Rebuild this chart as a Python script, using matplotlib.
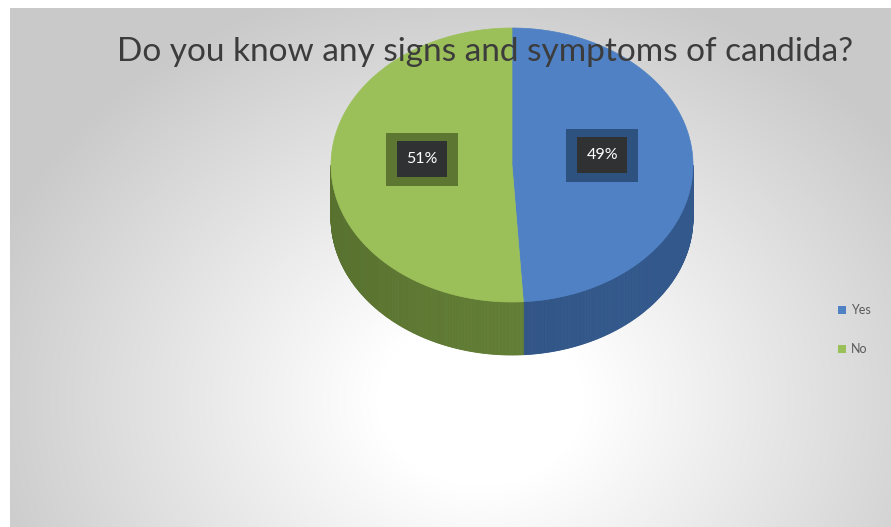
import numpy as np
import matplotlib
matplotlib.use("Agg")
import matplotlib.pyplot as plt
from matplotlib.patches import Polygon, Rectangle
from matplotlib.colors import to_rgb

# ---- data ----
categories = ["Yes", "No"]
values = [49, 51]
pct_labels = ["49%", "51%"]
title = "Do you know any signs and symptoms of candida?"

top_colors = ["#4f81c4", "#9cc059"]
side_colors = ["#2f5282", "#5f7a33"]
label_border = ["#2e5280", "#5d7733"]

W, H = 891, 527
fig = plt.figure(figsize=(W / 100, H / 100), dpi=100)
fig.patch.set_facecolor("white")
ax = fig.add_axes([0, 0, 1, 1])
ax.set_xlim(0, W)
ax.set_ylim(H, 0)
ax.axis("off")

# background radial gradient (chart area)
x0, y0 = 10, 8
yy, xx = np.mgrid[y0:H, x0:W]
gcx, gcy = 480, 400
d = np.sqrt(((xx - gcx) / 520.0) ** 2 + ((yy - gcy) / 430.0) ** 2)
d = np.clip((d - 0.2) / 0.8, 0, 1)
lum = 1.0 - 0.21 * d ** 1.0
img = np.dstack([lum, lum, lum])
ax.imshow(img, extent=(x0, W, H, y0), zorder=0, interpolation="bilinear")

# pie geometry
cx, cy, rx, ry, depth = 512, 165, 181, 137, 53
total = float(sum(values))
angles = np.cumsum([0] + [v / total * 360 for v in values])


def pt(theta_deg):
    t = np.radians(theta_deg)
    return cx + rx * np.sin(t), cy - ry * np.cos(t)


def shade(c, f):
    r, g, b = to_rgb(c)
    return (min(1, r * f), min(1, g * f), min(1, b * f))


# sides
for i in range(len(values)):
    a0, a1 = angles[i], angles[i + 1]
    s0, s1 = max(a0, 90), min(a1, 270)
    if s1 <= s0:
        continue
    steps = np.linspace(s0, s1, int((s1 - s0) * 2) + 2)
    for j in range(len(steps) - 1):
        ta, tb = steps[j], steps[j + 1]
        xa, ya = pt(ta)
        xb, yb = pt(tb)
        mid = (ta + tb) / 2
        f = 1.0 + 0.08 * np.cos(np.radians(mid - 110))
        poly = Polygon([(xa, ya), (xb, yb), (xb, yb + depth), (xa, ya + depth)],
                       closed=True, facecolor=shade(side_colors[i], f),
                       edgecolor=shade(side_colors[i], f), lw=0.6, zorder=2)
        ax.add_patch(poly)

# tops
for i in range(len(values)):
    a0, a1 = angles[i], angles[i + 1]
    th = np.linspace(a0, a1, 200)
    pts = [(cx, cy)] + [pt(t) for t in th]
    ax.add_patch(Polygon(pts, closed=True, facecolor=top_colors[i],
                         edgecolor=top_colors[i], lw=0.5, zorder=3))

# data labels
for i in range(len(values)):
    mid = (angles[i] + angles[i + 1]) / 2
    t = np.radians(mid)
    lx = cx + 0.50 * rx * np.sin(t)
    ly = cy - 0.50 * ry * np.cos(t) - 8
    ax.add_patch(Rectangle((lx - 36, ly - 26), 72, 53, facecolor=label_border[i],
                           edgecolor="none", zorder=4))
    ax.add_patch(Rectangle((lx - 25, ly - 18), 50, 36, facecolor="#2f3132",
                           edgecolor="none", zorder=5))
    ax.text(lx, ly, pct_labels[i], color="white", fontsize=11.5, family="Lato",
            ha="center", va="center", zorder=6)

# title
ax.text(485, 52, title, fontsize=24, family="Lato", color="#3c3c3c",
        ha="center", va="center", zorder=7)

# legend
leg_y = [310, 349]
for i, c in enumerate(categories):
    ax.add_patch(Rectangle((838, leg_y[i] - 4), 8, 8, facecolor=top_colors[i],
                           edgecolor="none", zorder=7))
    ax.text(851, leg_y[i], c, fontsize=9, family="Lato", color="#595959",
            ha="left", va="center", zorder=7)

fig.savefig("out.png", dpi=100)
